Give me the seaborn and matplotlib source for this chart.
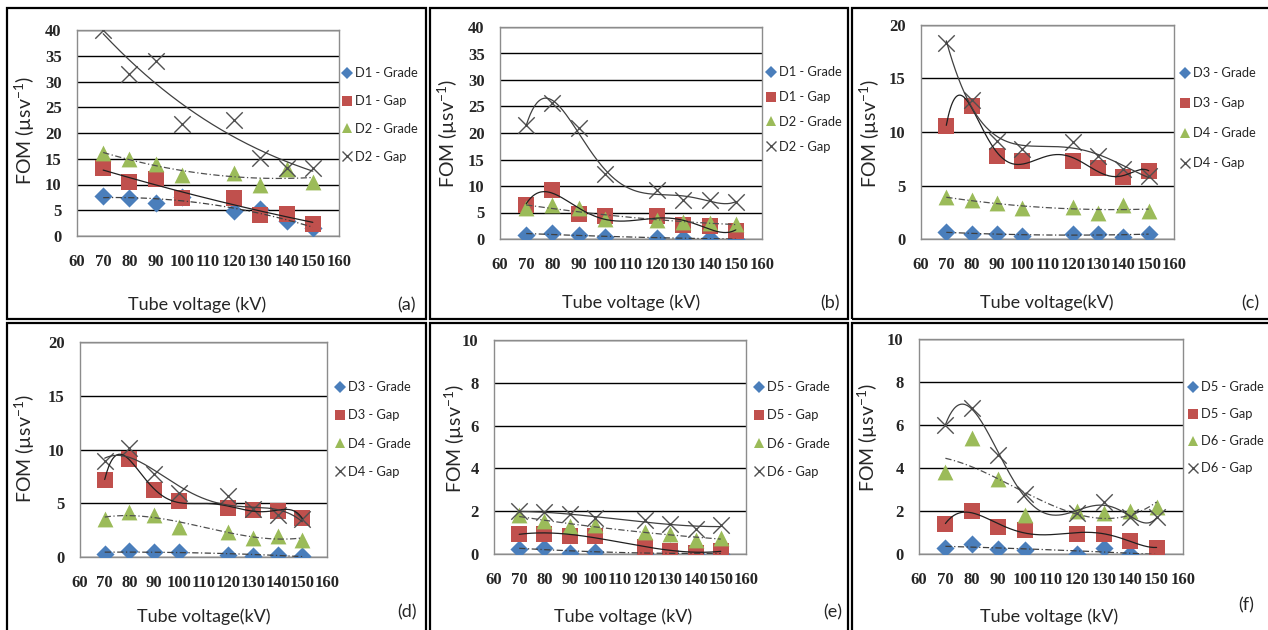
import numpy as np
import matplotlib
matplotlib.use('Agg')
import matplotlib.pyplot as plt
from matplotlib.patches import Rectangle
from matplotlib.lines import Line2D
import seaborn as sns

# tube voltages (kV), same for every panel
voltage = [70, 80, 90, 100, 120, 130, 140, 150]

# panel (a)
a_d1_grade = [7.8, 7.3, 6.4, 7.5, 4.8, 5.3, 3.0, 1.5]
a_d1_gap = [13.2, 10.5, 11.0, 7.3, 7.3, 4.0, 4.2, 2.4]
a_d2_grade = [16.2, 15.0, 14.0, 11.8, 12.2, 10.0, 13.0, 10.5]
a_d2_gap = [40.0, 31.5, 34.0, 21.8, 22.5, 15.2, 13.3, 13.3]

# panel (b)
b_d1_grade = [0.8, 1.2, 0.7, 0.4, 0.1, 0.2, 0.1, 0.0]
b_d1_gap = [6.5, 9.3, 4.8, 4.3, 4.3, 2.7, 2.4, 1.6]
b_d2_grade = [5.8, 6.5, 5.8, 3.8, 3.5, 3.3, 3.0, 2.8]
b_d2_gap = [21.5, 25.7, 21.0, 12.2, 9.2, 7.4, 7.4, 7.0]

# panel (c)
c_d3_grade = [0.7, 0.45, 0.45, 0.3, 0.5, 0.5, 0.2, 0.5]
c_d3_gap = [10.6, 12.4, 7.8, 7.3, 7.3, 6.6, 5.8, 6.4]
c_d4_grade = [3.9, 3.6, 3.4, 2.9, 3.0, 2.4, 3.2, 2.6]
c_d4_gap = [18.3, 13.0, 9.2, 8.4, 9.1, 7.8, 6.5, 5.9]

# panel (d)
d_d3_grade = [0.3, 0.6, 0.5, 0.5, 0.2, 0.1, 0.2, 0.1]
d_d3_gap = [7.2, 9.1, 6.2, 5.2, 4.6, 4.4, 4.3, 3.6]
d_d4_grade = [3.5, 4.2, 3.9, 2.8, 2.3, 1.8, 2.0, 1.6]
d_d4_gap = [8.9, 10.1, 7.7, 6.0, 5.7, 4.5, 3.9, 3.5]

# panel (e)
e_d5_grade = [0.25, 0.3, 0.05, 0.1, 0.0, 0.15, 0.0, 0.0]
e_d5_gap = [0.95, 0.95, 0.85, 0.85, 0.35, 0.15, 0.05, 0.15]
e_d6_grade = [1.8, 1.55, 1.3, 1.35, 1.05, 0.95, 0.65, 0.75]
e_d6_gap = [2.0, 1.95, 1.85, 1.7, 1.6, 1.4, 1.15, 1.35]

# panel (f)
f_d5_grade = [0.3, 0.45, 0.25, 0.2, 0.0, 0.3, 0.0, -0.05]
f_d5_gap = [1.4, 2.0, 1.25, 1.1, 0.95, 0.95, 0.6, 0.3]
f_d6_grade = [3.8, 5.4, 3.5, 1.8, 2.0, 1.9, 2.0, 2.2]
f_d6_gap = [6.0, 6.8, 4.6, 2.8, 1.9, 2.4, 1.7, 1.7]

labels_d12 = ['D1 - Grade', 'D1 - Gap', 'D2 - Grade', 'D2 - Gap']
labels_d34 = ['D3 - Grade', 'D3 - Gap', 'D4 - Grade', 'D4 - Gap']
labels_d56 = ['D5 - Grade', 'D5 - Gap', 'D6 - Grade', 'D6 - Gap']

W, H = 1268, 630

panels = [
    dict(tag='(a)', series=[a_d1_grade, a_d1_gap, a_d2_grade, a_d2_gap], labels=labels_d12,
         deg=[2, 2, 2, 3], ymax=40, ystep=5, xlabel='Tube voltage (kV)',
         box=(7, 8, 426, 319), plot=(77, 30, 339, 236), leg=(349, 73, 27.5),
         ylab=(25, 130), xlab=(197, 305), tagpos=(407, 305)),
    dict(tag='(b)', series=[b_d1_grade, b_d1_gap, b_d2_grade, b_d2_gap], labels=labels_d12,
         deg=[2, 5, 2, 5], ymax=40, ystep=5, xlabel='Tube voltage (kV)',
         box=(430, 8, 848, 319), plot=(500, 27, 762, 239), leg=(773, 72, 24.5),
         ylab=(448, 133), xlab=(631, 303), tagpos=(830, 303)),
    dict(tag='(c)', series=[c_d3_grade, c_d3_gap, c_d4_grade, c_d4_gap], labels=labels_d34,
         deg=[2, 6, 2, 4], ymax=20, ystep=5, xlabel='Tube voltage(kV)',
         box=(852, 8, 1272, 319), plot=(921, 25, 1174, 239), leg=(1187, 73, 29.7),
         ylab=(870, 133), xlab=(1047, 303), tagpos=(1250, 303)),
    dict(tag='(d)', series=[d_d3_grade, d_d3_gap, d_d4_grade, d_d4_gap], labels=labels_d34,
         deg=[2, 6, 3, 4], ymax=20, ystep=5, xlabel='Tube voltage(kV)',
         box=(7, 323, 426, 634), plot=(80, 342, 327, 557), leg=(342, 387, 27.8),
         ylab=(25, 448), xlab=(204, 617), tagpos=(407, 612)),
    dict(tag='(e)', series=[e_d5_grade, e_d5_gap, e_d6_grade, e_d6_gap], labels=labels_d56,
         deg=[2, 3, 2, 3], ymax=10, ystep=2, xlabel='Tube voltage (kV)',
         box=(430, 323, 848, 634), plot=(494, 340, 746, 554), leg=(761, 387, 27.8),
         ylab=(455, 438), xlab=(623, 617), tagpos=(833, 612)),
    dict(tag='(f)', series=[f_d5_grade, f_d5_gap, f_d6_grade, f_d6_gap], labels=labels_d56,
         deg=[2, 5, 3, 6], ymax=10, ystep=2, xlabel='Tube voltage (kV)',
         box=(852, 323, 1272, 634), plot=(919, 339, 1183, 554), leg=(1195, 387, 26.7),
         ylab=(868, 437), xlab=(1049, 617), tagpos=(1246, 605)),
]

markers = ['D', 's', '^', 'x']
colors = ['#4A7EBB', '#C0504D', '#9BBB59', '#505050']
sizes = [85, 125, 130, 140]
trend_styles = [(0, (5, 2, 1, 2)), '-', (0, (5, 2, 1, 2)), '-']
trend_colors = ['#404040', '#202020', '#505050', '#404040']

sns.set_style('white')
plt.rcParams['font.family'] = ['Lato', 'DejaVu Sans']
plt.rcParams['mathtext.fontset'] = 'custom'
plt.rcParams['mathtext.rm'] = 'Lato'

fig = plt.figure(figsize=(W / 100, H / 100), dpi=100)


def frac(x0, y0, x1, y1):
    return [x0 / W, 1 - y1 / H, (x1 - x0) / W, (y1 - y0) / H]


xs = np.linspace(70, 150, 200)
xticks = np.arange(60, 161, 10)

for p in panels:
    bx = p['box']
    fig.add_artist(Rectangle((bx[0] / W, 1 - bx[3] / H), (bx[2] - bx[0]) / W, (bx[3] - bx[1]) / H,
                             transform=fig.transFigure, fill=False, edgecolor='black', lw=1.6))
    ax = fig.add_axes(frac(*p['plot']))

    for i, vals in enumerate(p['series']):
        kw = dict(marker=markers[i], s=sizes[i], color=colors[i], zorder=3 + i)
        kw['linewidth'] = 1.0 if markers[i] == 'x' else 0
        sns.scatterplot(x=voltage, y=vals, ax=ax, legend=False, **kw)

    # polynomial trend lines, drawn above the markers like in Excel
    for i, vals in enumerate(p['series']):
        fit = np.polynomial.Polynomial.fit(voltage, vals, p['deg'][i])
        sns.lineplot(x=xs, y=fit(xs), ax=ax, color=trend_colors[i], lw=0.9,
                     linestyle=trend_styles[i], zorder=10)

    yticks = np.arange(0, p['ymax'] + 0.1, p['ystep'])
    ax.set_xlim(60, 160)
    ax.set_ylim(0, p['ymax'])
    ax.set_xticks(xticks, [f'{v:g}' for v in xticks], family='Liberation Serif',
                  fontweight='bold', fontsize=12)
    ax.set_yticks(yticks, [f'{v:g}' for v in yticks], family='Liberation Serif',
                  fontweight='bold', fontsize=12)
    ax.yaxis.grid(True, color='black', lw=1.0)
    ax.set_axisbelow(True)
    for sp in ax.spines.values():
        sp.set_color('#8C8C8C')
        sp.set_linewidth(1.0)
    ax.tick_params(axis='both', length=0)
    ax.tick_params(axis='x', pad=13)
    ax.tick_params(axis='y', pad=11)
    ax.set_xlabel('')
    ax.set_ylabel('')

    handles = [Line2D([], [], linestyle='none', marker=markers[i], color=colors[i],
                      markersize=[6, 7.5, 7.5, 7][i], markeredgewidth=1.0 if markers[i] == 'x' else 0)
               for i in range(4)]
    lx, ly, step = p['leg']
    fs = 9.3
    fs_px = fs * 100 / 72
    ax.legend(handles, p['labels'], loc='upper left', frameon=False, fontsize=fs,
              handlelength=0.8, handletextpad=0.25, borderpad=0, borderaxespad=0,
              labelspacing=(step - 0.9 * fs_px) / fs_px,
              bbox_to_anchor=((lx - 0.4 * fs_px - 2) / W, 1 - (ly - fs_px * 0.6 + 2) / H),
              bbox_transform=fig.transFigure)

    fig.text(p['ylab'][0] / W, 1 - p['ylab'][1] / H, r'FOM (µsv$^{-1}$)', rotation=90,
             ha='center', va='center', fontsize=14)
    fig.text(p['xlab'][0] / W, 1 - p['xlab'][1] / H, p['xlabel'], ha='center', va='center',
             fontsize=13)
    fig.text(p['tagpos'][0] / W, 1 - p['tagpos'][1] / H, p['tag'], ha='center', va='center',
             fontsize=13)

fig.savefig('out.png', dpi=100, facecolor='white')
